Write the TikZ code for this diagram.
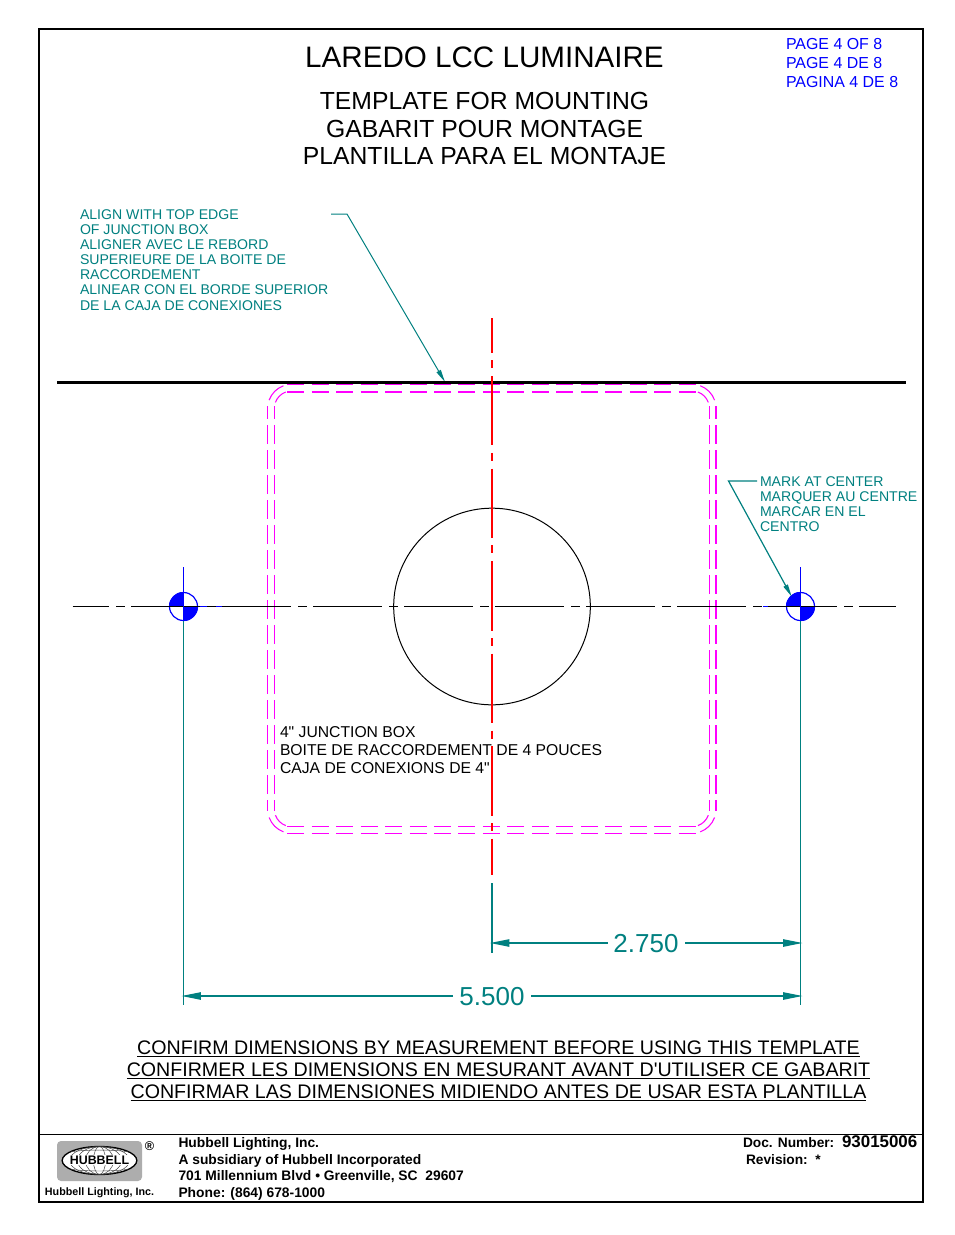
\documentclass[tikz,border=0pt]{standalone}
\usepackage{fontspec}
\setmainfont{Liberation Sans}
\newfontfamily\plainf{Liberation Sans}
\usetikzlibrary{arrows.meta,shapes.geometric}
\definecolor{tealc}{RGB}{0,128,128}
\definecolor{mag}{RGB}{255,0,255}
\tikzset{
 lbl/.style={anchor=base west,inner sep=0pt,outer sep=0pt},
 ctr/.style={anchor=base,inner sep=0pt,outer sep=0pt},
 dimtip/.style={-{Triangle[length=14.5pt,width=5.5pt,fill=tealc]},shorten >=-1.5pt},
 leadtip/.style={-{Triangle[length=9.5pt,width=3.5pt,fill=tealc]}},
 hbox/.style={mag,line width=0.8pt,dash pattern=on 12.75pt off 5.6pt},
 hboxtop/.style={mag,line width=1.4pt,dash pattern=on 12.75pt off 5.6pt},
 vbox/.style={mag,line width=0.8pt,dash pattern=on 13.9pt off 4.85pt,dash phase=4.5pt},
 cbox/.style={mag,line width=0.8pt},
 fs/.code={\fontsize{#1}{#1}\selectfont},
}
\begin{document}
\begin{tikzpicture}[x=0.75pt,y=-0.75pt]
\useasboundingbox (0,0) rectangle (954,1235);
\fill[white] (0,0) rectangle (954,1235);
% frame
\draw[line width=1.5pt] (38.5,28.5) rectangle (923,1202);
\draw[line width=0.6pt] (38.5,1134) -- (923,1134);
% titles
\node[ctr,fs=22.2pt] (t1) at (484.5,67) {LAREDO LCC LUMINAIRE};
\node[ctr,fs=18.55pt] (t2) at (484.5,109.5) {TEMPLATE FOR MOUNTING};
\node[ctr,fs=18.55pt] (t3) at (484.5,137.5) {GABARIT POUR MONTAGE};
\node[ctr,fs=18.55pt] (t4) at (484.5,164.5) {PLANTILLA PARA EL MONTAJE};
\node[lbl,blue,fs=11.95pt] (p1) at (786,49) {PAGE 4 OF 8};
\node[lbl,blue,fs=11.95pt] (p2) at (786,68) {PAGE 4 DE 8};
\node[lbl,blue,fs=11.95pt] (p3) at (786,87) {PAGINA 4 DE 8};
% note 1
\foreach \n/\y/\s in {a1/219/ALIGN WITH TOP EDGE,a2/234/OF JUNCTION BOX,a3/249/ALIGNER AVEC LE REBORD,a4/264/SUPERIEURE DE LA BOITE DE,a5/279/RACCORDEMENT,a6/294/ALINEAR CON EL BORDE SUPERIOR,a7/310/DE LA CAJA DE CONEXIONES}
  \node[lbl,tealc,fs=10.57pt] (\n) at (80,\y) {\s};
\coordinate (l1a) at (331,214);
\coordinate (l1b) at (347,214);
\coordinate (l1c) at (445,382);
\draw[tealc,line width=0.75pt,leadtip] (l1a) -- (l1b) -- (l1c);
% top edge
\coordinate (e1) at (57,382.5);
\coordinate (e2) at (906,382.5);
% junction box
\draw[hboxtop] (287.2,384.5) -- (696,384.5);
\draw[hboxtop] (287.2,392) -- (696,392);
\draw[hbox] (287.2,826.3) -- (696,826.3);
\draw[hbox] (287.2,833.3) -- (696,833.3);
\foreach \x in {267.7,274.3,709.3,716}{
  \draw[vbox] (\x,406) -- (\x,811);
}
\foreach \cx/\cy/\a in {692/408.3/20,291.7/408.3/110,291.7/809.3/200,692/809.3/290}{
  \pgfmathsetmacro{\b}{\a+50}
  \draw[cbox] ([shift={(\a:18pt)}]\cx,\cy) arc[start angle=\a,end angle=\b,radius=18pt];
  \draw[cbox] ([shift={(\a:13pt)}]\cx,\cy) arc[start angle=\a,end angle=\b,radius=13pt];
}
\draw[line width=2.3pt] (e1) -- (e2);
% circle
\node[draw,circle,minimum size=147.5pt,inner sep=0pt,line width=0.75pt] (c) at (492,606.5) {};
% targets
\foreach \n/\x/\bl/\br in {L/183.5/198/222,R/800.5/763/770}{
  \draw[blue,line width=0.75pt] (\bl,606.5) -- (\br,606.5);
}
% center lines
\coordinate (h1) at (72.7,606.5);
\coordinate (h2) at (896,606.5);
\draw[line width=0.75pt,dash pattern=on 52pt off 5.25pt on 6.75pt off 4.25pt,dash phase=24.5pt] (h1) -- (h2);
\coordinate (v1) at (492,318);
\coordinate (v2) at (492,875);
\draw[red,line width=1.5pt,dash pattern=on 52.1pt off 5.6pt on 6pt off 5.7pt,dash phase=25.9pt] (v1) -- (v2);
\foreach \n/\x in {L/183.5,R/800.5}{
  \fill[blue] (\x-14.5,606.5) arc[start angle=180,end angle=90,radius=10.9pt] -- (\x,606.5) -- cycle;
  \fill[blue] (\x+14.5,606.5) arc[start angle=0,end angle=-90,radius=10.9pt] -- (\x,606.5) -- cycle;
  \node[draw=blue,circle,minimum size=21pt,inner sep=0pt,line width=0.9pt] (tg\n) at (\x,606.5) {};
  \draw[line width=0.75pt] (tg\n.west) -- (tg\n.east);
  \draw[blue,line width=0.75pt] (\x,567) -- (tg\n.south);
  \draw[tealc,line width=0.75pt] (tg\n.south) -- (\x,1005);
}
% note 2
\foreach \n/\y/\s in {b1/486/MARK AT CENTER,b2/501/MARQUER AU CENTRE,b3/516/MARCAR EN EL,b4/531/CENTRO}
  \node[lbl,tealc,fs=10.57pt] (\n) at (760,\y) {\s};
\coordinate (l2a) at (757,481);
\coordinate (l2b) at (728.5,481);
\coordinate (l2c) at (791.7,596.7);
\draw[tealc,line width=0.9pt,leadtip] (l2a) -- (l2b) -- (l2c);
% junction text
\node[lbl,font=\plainf,fs=11.78pt] (j1) at (280,737) {4" JUNCTION BOX};
\node[lbl,font=\plainf,fs=11.78pt] (j2) at (280,755) {BOITE DE RACCORDEMENT DE 4 POUCES};
\node[lbl,font=\plainf,fs=11.78pt] (j3) at (280,773) {CAJA DE CONEXIONS DE 4"};
% dimensions
\coordinate (d0) at (492,883);
\coordinate (d0b) at (492,953);
\draw[tealc,line width=1pt] (d0) -- (d0b);
\node[ctr,tealc,fs=19.5pt] (d1) at (646,952.5) {2.750};
\node[ctr,tealc,fs=19.5pt] (d2) at (492,1005.5) {5.500};
\coordinate (d1l) at (492,943);
\coordinate (d1r) at (800.5,943);
\coordinate (d2l) at (183.5,996);
\coordinate (d2r) at (800.5,996);
\draw[tealc,line width=1pt,dimtip] (607.5,943) -- (d1l);
\draw[tealc,line width=1pt,dimtip] (685,943) -- (d1r);
\draw[tealc,line width=1pt,dimtip] (453,996) -- (d2l);
\draw[tealc,line width=1pt,dimtip] (531,996) -- (d2r);
% warnings
\node[ctr,font=\plainf,fs=14.72pt] (w1) at (498.5,1054) {\underline{CONFIRM DIMENSIONS BY MEASUREMENT BEFORE USING THIS TEMPLATE}};
\node[ctr,font=\plainf,fs=14.72pt] (w2) at (498.5,1076) {\underline{CONFIRMER LES DIMENSIONS EN MESURANT AVANT D'UTILISER CE GABARIT}};
\node[ctr,font=\plainf,fs=14.72pt] (w3) at (498.5,1098) {\underline{CONFIRMAR LAS DIMENSIONES MIDIENDO ANTES DE USAR ESTA PLANTILLA}};
% logo
\fill[black!32,rounded corners=3pt] (57,1141) rectangle (142,1181);
\node[draw,ellipse,fill=white,minimum width=56pt,minimum height=21pt,inner sep=0pt,line width=1pt] (g) at (99.5,1160.5) {};
\begin{scope}
\clip (99.5,1160.5) ellipse[x radius=37,y radius=14];
\foreach \r in {6,14,22,30}{\draw[black!75,line width=0.35pt] (99.5,1160.5) ellipse[x radius=\r,y radius=14];}
\draw[black!75,line width=0.35pt] (62,1153) .. controls (85,1149) and (114,1149) .. (137,1153);
\draw[black!75,line width=0.35pt] (62,1168) .. controls (85,1172) and (114,1172) .. (137,1168);
\end{scope}
\node[ctr,fill=white,inner xsep=0.5pt,inner ysep=0.5pt,font=\bfseries,fs=9.3pt] (hl) at (99.5,1164.5) {HUBBELL};
\node[ctr,font=\bfseries,fs=9.5pt] (reg) at (149.5,1150) {®};
\node[ctr,font=\bfseries,fs=8.05pt] (hi) at (99.5,1195) {Hubbell Lighting, Inc.};
% footer
\node[lbl,font=\bfseries,fs=10.37pt] (f1) at (178.5,1147) {Hubbell Lighting, Inc.};
\node[lbl,font=\bfseries,fs=10.37pt] (f2) at (178.5,1164) {A subsidiary of Hubbell Incorporated};
\node[lbl,font=\bfseries,fs=10.37pt] (f3) at (178.5,1180) {701 Millennium Blvd • Greenville, SC\ \ 29607};
\node[lbl,font=\bfseries,fs=10.37pt] (f4) at (178.5,1197) {Phone: (864) 678-1000};
\node[lbl,font=\bfseries,fs=10.3pt] (f5) at (743,1147) {Doc. Number:};
\node[lbl,font=\bfseries,fs=12.7pt] (f6) at (842,1147) {93015006};
\node[lbl,font=\bfseries,fs=10.3pt] (f7) at (746,1164) {Revision:\ \ *};
\end{tikzpicture}
\end{document}
